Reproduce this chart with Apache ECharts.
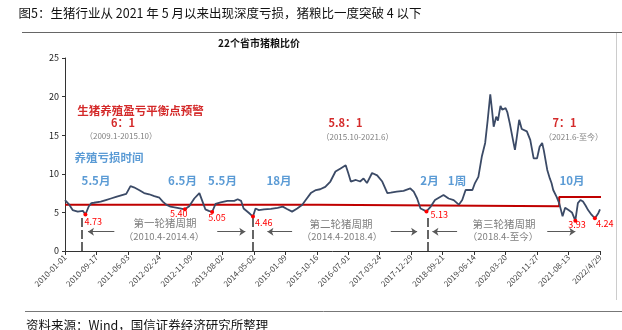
<!DOCTYPE html>
<html><head><meta charset="utf-8">
<script src="https://cdn.jsdelivr.net/npm/echarts@6/dist/echarts.min.js"></script>
<style>html,body{margin:0;padding:0;background:#fff}#c{width:622px;height:330px}</style>
</head><body><div id="c"></div>
<script>
// x = week index from 2010-01-01
const tickLabels = ['2010-01-01','2010-09-17','2011-06-03','2012-02-24','2012-11-09','2013-08-02','2014-05-02','2015-01-09','2015-10-16','2016-07-01','2017-03-24','2017-12-29','2018-09-21','2019-06-14','2020-03-20','2020-11-27','2021-08-13','2022/4/29'];
const weeks = [0,5,9,15,21,24,28,31,34,42,48,54,60,66,72,77,81,87,93,99,105,111,115,119,124,132,141,146,152,158,160,163,165,169,173,177,183,191,199,203,207,210,216,221,224,228,234,242,250,256,261,267,273,279,283,289,295,300,306,312,318,324,330,333,336,342,347,351,355,361,367,373,379,383,390,398,406,410,414,418,425,430,435,441,445,451,457,463,467,471,479,482,486,490,494,497,500,502,504,507,509,512,514,518,520,523,527,529,531,534,537,543,547,551,555,558,561,563,567,570,572,574,578,581,585,588,592,596,600,603,606,609,612,615,619,623,627,629];
const ratio = [6.6,6.0,5.3,5.1,5.2,4.73,5.8,6.2,6.25,6.4,6.6,6.8,7.0,7.2,7.4,8.4,8.25,7.9,7.5,7.35,7.1,6.9,6.4,6.0,5.75,5.6,5.40,5.8,6.8,7.5,7.25,6.0,5.4,5.2,5.05,6.1,6.3,6.5,6.5,6.7,6.5,5.5,4.95,4.46,5.5,5.3,5.4,5.45,5.6,5.75,5.45,5.1,5.5,6.0,6.6,7.5,7.9,8.0,8.3,9.0,10.3,10.7,11.1,10.1,9.0,9.2,9.0,9.4,8.8,10.1,9.8,9.0,7.5,7.55,7.7,7.8,8.1,7.7,6.8,5.5,5.13,5.75,6.6,7.0,7.25,6.8,6.6,6.0,6.6,7.9,7.9,8.8,9.6,12.2,14.0,17.0,20.3,18.3,16.1,17.4,16.9,18.8,18.3,18.5,18.0,16.5,14.2,13.1,14.6,17.0,15.8,15.5,14.4,12.0,12.0,13.5,14.0,13.0,10.5,9.4,8.8,7.9,7.0,6.2,4.5,5.6,5.3,5.0,3.93,6.2,6.6,6.4,5.9,5.3,4.7,4.24,4.9,5.4];
const thresholdWeeks = [0,298,298,581,581,631];
const thresholdValues = [6,6,5.8,5.8,7,7];
const lowWeeks = [24,141,173,221,425,600,623];
const lowValues = [4.73,5.40,5.05,4.46,5.13,3.93,4.24];
const cycleStartWeeks = [20,221,427];
const cycleStartTops = [4.66,4.44,4.44];

const lowLabelOffsets = [[-1,7],[-15,4],[-4,6],[2,6],[4,3],[-7,4],[1,5]];
const FONT = '"Noto Sans CJK SC", "Noto Sans", sans-serif';
const RED = '#d42a2a', BLUE = '#5b9bd5', GRAY = '#7f7f7f';

const arrowPairs = [[58,27],[179,212],[267,238],[383,414],[461,432],[567,600]];
const arrowY = 2.5;

function txt(x, y, text, color, size, bold) {
  return {type:'text', x:x, y:y, style:{text:text, fill:color, font:(bold?'bold ':'')+size+'px '+FONT, textAlign:'center', textVerticalAlign:'middle'}};
}

const chart = echarts.init(document.getElementById('c'), null, {renderer:'canvas'});
chart.setOption({
  animation:false,
  backgroundColor:'#fff',
  grid:{left:65, right:22, top:58, bottom:79},
  xAxis:{type:'value', min:0, max:629, interval:37,
    axisLine:{lineStyle:{color:'#333', width:1}},
    axisTick:{show:true, length:4, lineStyle:{color:'#333'}},
    splitLine:{show:false},
    axisLabel:{rotate:45, fontSize:8, color:'#444', fontFamily:FONT, margin:5,
      formatter:function(v){ const i=Math.round(v/37); return tickLabels[i]||''; }}
  },
  yAxis:{type:'value', min:0, max:25, interval:5,
    axisLine:{show:true, lineStyle:{color:'#333', width:1}},
    axisTick:{show:true, length:3, lineStyle:{color:'#333'}},
    splitLine:{show:false},
    axisLabel:{fontSize:9, color:'#222', fontFamily:FONT, margin:6}
  },
  series:[
    {type:'line', data:thresholdWeeks.map((w,i)=>[w,thresholdValues[i]]), symbol:'none',
      lineStyle:{color:'#c00000', width:2}, z:2, clip:false,
      markLine:{silent:true, symbol:'none', label:{show:false},
        lineStyle:{color:'#333', width:1.5, type:[9,3]},
        data:cycleStartWeeks.map((w,i)=>[{coord:[w,0]},{coord:[w,cycleStartTops[i]]}])}
    },
    {type:'line', data:weeks.map((w,i)=>[w,ratio[i]]), symbol:'none',
      lineStyle:{color:'#3b4a66', width:1.8}, z:3,
      markPoint:{symbol:'circle', symbolSize:4, itemStyle:{color:'#ff0000'},
        data:lowWeeks.map((w,i)=>({coord:[w,lowValues[i]], value:lowValues[i],
          label:{show:true, position:'inside', align:'left', verticalAlign:'middle',
            offset:lowLabelOffsets[i], color:'#ff0000', fontSize:9, fontFamily:FONT,
            formatter:lowValues[i].toFixed(2)}}))
      }
    },
    {type:'line', data:[], symbol:'none',
      markLine:{silent:true, symbol:['none','arrow'], symbolSize:6, label:{show:false},
        lineStyle:{color:'#595959', width:1, type:'solid'},
        data:arrowPairs.map(p=>[{coord:[p[0],arrowY]},{coord:[p[1],arrowY]}])}
    }
  ],
  graphic:[
    txt(220, 13, '图5：生猪行业从 2021 年 5 月以来出现深度亏损，猪粮比一度突破 4 以下', '#111', 12.5, false),
    {type:'line', shape:{x1:22,y1:32.5,x2:622,y2:32.5}, style:{stroke:'#666', lineWidth:1}},
    {type:'line', shape:{x1:616.5,y1:33,x2:616.5,y2:300}, style:{stroke:'#ccc', lineWidth:1}},
    {type:'line', shape:{x1:25,y1:311.5,x2:622,y2:311.5}, style:{stroke:'#777', lineWidth:1}},
    {type:'text', x:26, y:325, style:{text:'资料来源：Wind，国信证券经济研究所整理', fill:'#111', font:'12.5px '+FONT, textAlign:'left', textVerticalAlign:'middle'}},
    txt(259, 43, '22个省市猪粮比价', '#111', 10, true),
    txt(140.5, 110.7, '生猪养殖盈亏平衡点预警', RED, 11.5, true),
    txt(123, 123.3, '6：1', RED, 11, true),
    txt(121, 135.7, '（2009.1-2015.10）', GRAY, 8, false),
    txt(109, 157.7, '养殖亏损时间', BLUE, 11.5, true),
    txt(96, 181, '5.5月', BLUE, 11.5, true),
    txt(182.5, 181, '6.5月', BLUE, 11.5, true),
    txt(222.5, 181, '5.5月', BLUE, 11.5, true),
    txt(279, 181, '18月', BLUE, 11.5, true),
    txt(345.5, 122.7, '5.8：1', RED, 11, true),
    txt(357.5, 137.3, '（2015.10-2021.6）', GRAY, 8, false),
    txt(429.5, 181, '2月', BLUE, 11.5, true),
    txt(457, 181, '1周', BLUE, 11.5, true),
    txt(564.5, 123.3, '7：1', RED, 11, true),
    txt(573.5, 137, '（2021.6-至今）', GRAY, 8, false),
    txt(572, 181, '10月', BLUE, 11.5, true),
    txt(165, 223.5, '第一轮猪周期', GRAY, 10.5, false),
    txt(164, 236.5, '（2010.4-2014.4）', GRAY, 9.5, false),
    txt(341, 224, '第二轮猪周期', GRAY, 10.5, false),
    txt(342, 236.5, '（2014.4-2018.4）', GRAY, 9.5, false),
    txt(504, 224, '第三轮猪周期', GRAY, 10.5, false),
    txt(503, 236, '（2018.4-至今）', GRAY, 9.5, false)
  ]
});
</script></body></html>
